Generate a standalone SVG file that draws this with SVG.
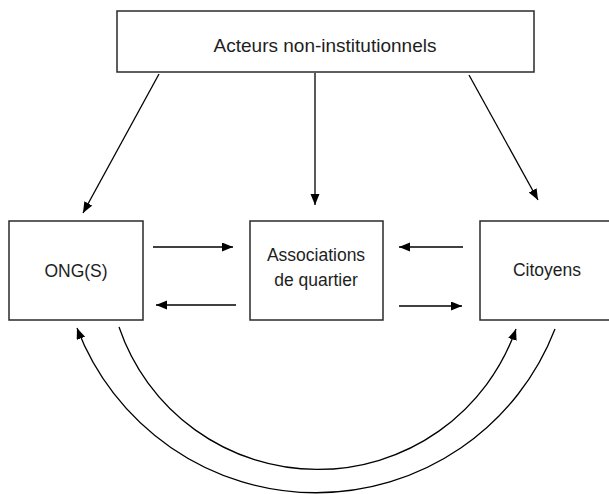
<svg xmlns="http://www.w3.org/2000/svg" width="609" height="494" viewBox="0 0 609 494">
  <style>
    .box { fill: #ffffff; stroke: #2a2a2a; stroke-width: 1.5; }
    .lbl { font-family: "Liberation Sans", Arial, sans-serif; fill: #1e1e1e; text-anchor: middle; }
    .edge { fill: none; stroke: #000000; stroke-width: 1.3; }
  </style>
  <defs>
    <marker id="ah" markerUnits="userSpaceOnUse" markerWidth="12" markerHeight="10" refX="11" refY="4.5" orient="auto">
      <path d="M0,0 L11,4.5 L0,9 z" fill="#000000"/>
    </marker>
  </defs>
  <rect x="0" y="0" width="609" height="494" fill="#ffffff"/>

  <g id="acteurs">
    <rect class="box" x="117" y="11" width="417" height="61"/>
    <text class="lbl" x="325" y="52" font-size="19">Acteurs non-institutionnels</text>
  </g>
  <g id="ong">
    <rect class="box" x="9" y="221" width="134" height="99"/>
    <text class="lbl" x="76" y="277" font-size="17.5">ONG(S)</text>
  </g>
  <g id="associations">
    <rect class="box" x="250" y="221" width="133" height="99"/>
    <text class="lbl" x="316" y="261" font-size="17.5">Associations</text>
    <text class="lbl" x="316" y="286" font-size="17.5">de quartier</text>
  </g>
  <g id="citoyens">
    <rect class="box" x="480" y="221" width="150" height="99"/>
    <text class="lbl" x="547" y="276" font-size="17.5">Citoyens</text>
  </g>

  <g id="connectors">
    <line class="edge" x1="159" y1="74" x2="83" y2="213" marker-end="url(#ah)"/>
    <line class="edge" x1="315" y1="73" x2="315" y2="205" marker-end="url(#ah)"/>
    <line class="edge" x1="469" y1="75" x2="538" y2="200" marker-end="url(#ah)"/>
    <line class="edge" x1="153" y1="247" x2="233" y2="247" marker-end="url(#ah)"/>
    <line class="edge" x1="236" y1="305" x2="156" y2="305" marker-end="url(#ah)"/>
    <line class="edge" x1="463" y1="247" x2="399" y2="247" marker-end="url(#ah)"/>
    <line class="edge" x1="399" y1="306" x2="462" y2="306" marker-end="url(#ah)"/>
    <path class="edge" d="M119,327 A210,210 0 0 0 516,329" marker-end="url(#ah)"/>
    <path class="edge" d="M555,329 A256,256 0 0 1 77,328" marker-end="url(#ah)"/>
  </g>
</svg>
